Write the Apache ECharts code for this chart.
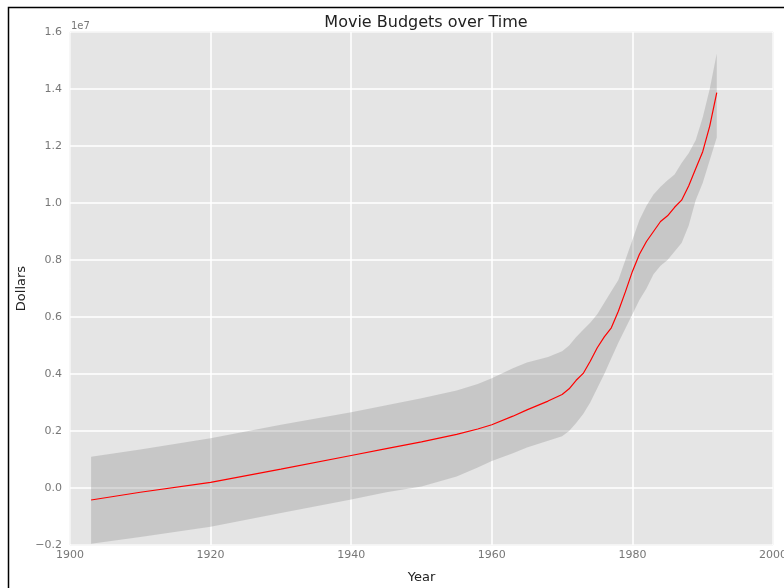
<!DOCTYPE html>
<html>
<head>
<meta charset="utf-8">
<script src="https://cdn.jsdelivr.net/npm/echarts@6/dist/echarts.min.js"></script>
<style>
html,body{margin:0;padding:0;background:#fff;}
#chart{width:784px;height:588px;}
</style>
</head>
<body>
<div id="chart"></div>
<script>
// Values in units of 1e7 dollars
var years = [1903, 1910, 1920, 1930, 1940, 1945, 1950, 1955, 1958, 1960, 1963, 1965, 1968, 1970, 1971, 1972, 1973, 1974, 1975, 1976, 1977, 1978, 1979, 1980, 1981, 1982, 1983, 1984, 1985, 1986, 1987, 1988, 1989, 1990, 1991, 1992];
var meanBudget = [-0.042, -0.015, 0.020, 0.066, 0.114, 0.138, 0.162, 0.188, 0.207, 0.222, 0.252, 0.274, 0.305, 0.328, 0.348, 0.378, 0.402, 0.445, 0.492, 0.530, 0.562, 0.620, 0.688, 0.760, 0.820, 0.865, 0.900, 0.935, 0.955, 0.985, 1.010, 1.060, 1.120, 1.180, 1.270, 1.387];
var upperBound = [0.110, 0.135, 0.175, 0.222, 0.266, 0.290, 0.315, 0.342, 0.365, 0.385, 0.420, 0.440, 0.460, 0.480, 0.500, 0.530, 0.555, 0.580, 0.610, 0.650, 0.690, 0.730, 0.800, 0.870, 0.940, 0.990, 1.030, 1.057, 1.080, 1.100, 1.140, 1.175, 1.220, 1.300, 1.400, 1.525];
var lowerBound = [-0.196, -0.172, -0.136, -0.088, -0.040, -0.015, 0.005, 0.040, 0.072, 0.095, 0.122, 0.142, 0.166, 0.182, 0.200, 0.228, 0.260, 0.300, 0.350, 0.400, 0.455, 0.510, 0.560, 0.610, 0.660, 0.700, 0.750, 0.780, 0.800, 0.830, 0.860, 0.920, 1.010, 1.070, 1.150, 1.230];
var yTicks = [-0.2, 0.0, 0.2, 0.4, 0.6, 0.8, 1.0, 1.2, 1.4, 1.6];
var xTicks = [1900, 1920, 1940, 1960, 1980, 2000];

var bandData = years.map(function(y, i){ return [y, lowerBound[i], upperBound[i]]; });
var meanData = years.map(function(y, i){ return [y, meanBudget[i]]; });

var chart = echarts.init(document.getElementById('chart'), null, {renderer:'canvas'});
var font = 'DejaVu Sans';
chart.setOption({
  animation: false,
  backgroundColor: '#ffffff',
  title: {
    text: 'Movie Budgets over Time',
    left: 421, top: 10, textAlign: 'center',
    textStyle: {fontFamily: font, fontSize: 16, fontWeight: 'normal', color: '#222'}
  },
  grid: {
    left: 70, right: 11, top: 32, bottom: 43,
    outerBoundsMode: 'none', containLabel: false,
    show: true, backgroundColor: '#e5e5e5', borderColor: '#bcbcbc', borderWidth: 1
  },
  xAxis: {
    type: 'value', min: xTicks[0], max: xTicks[xTicks.length-1], interval: 20,
    name: 'Year', nameLocation: 'middle', nameGap: 26,
    nameTextStyle: {fontFamily: font, fontSize: 13, color: '#222'},
    axisLine: {show: false}, axisTick: {show: false},
    axisLabel: {fontFamily: font, fontSize: 11, color: '#777', margin: 5,
      formatter: function(v){ return String(v); }},
    splitLine: {show: true, lineStyle: {color: '#ffffff', width: 1.5}}
  },
  yAxis: {
    type: 'value', min: yTicks[0], max: yTicks[yTicks.length-1], interval: 0.2,
    name: 'Dollars', nameLocation: 'middle', nameGap: 42, nameRotate: 90, nameMoveOverlap: false,
    nameTextStyle: {fontFamily: font, fontSize: 13, color: '#222'},
    axisLine: {show: false}, axisTick: {show: false},
    axisLabel: {fontFamily: font, fontSize: 11, color: '#777', margin: 8,
      formatter: function(v){ var s = (Math.round(v*10)/10).toFixed(1); return s.replace('-', '\u2212'); }},
    splitLine: {show: true, lineStyle: {color: '#ffffff', width: 1.5}}
  },
  graphic: [
    {type: 'text', left: 71, top: 21, style: {text: '1e7', font: '10px "DejaVu Sans"', fill: '#777'}},
    {type: 'rect', shape: {x: 8.5, y: 7.5, width: 820, height: 620}, style: {fill: null, stroke: '#000', lineWidth: 1.5}, silent: true}
  ],
  series: [
    {type: 'custom', data: bandData, silent: true, z: 1,
     encode: {x: 0, y: [1, 2]},
     renderItem: function(params, api){
       if (params.dataIndex !== 0) return null;
       var pts = [];
       for (var i = 0; i < bandData.length; i++) pts.push(api.coord([bandData[i][0], bandData[i][2]]));
       for (var j = bandData.length - 1; j >= 0; j--) pts.push(api.coord([bandData[j][0], bandData[j][1]]));
       return {type: 'polygon', shape: {points: pts}, style: {fill: 'rgba(128,128,128,0.29)'}};
     }},
    {type: 'line', data: meanData, symbol: 'none', z: 3, lineStyle: {color: '#ff0000', width: 1.2}, silent: true}
  ]
});
</script>
</body>
</html>
